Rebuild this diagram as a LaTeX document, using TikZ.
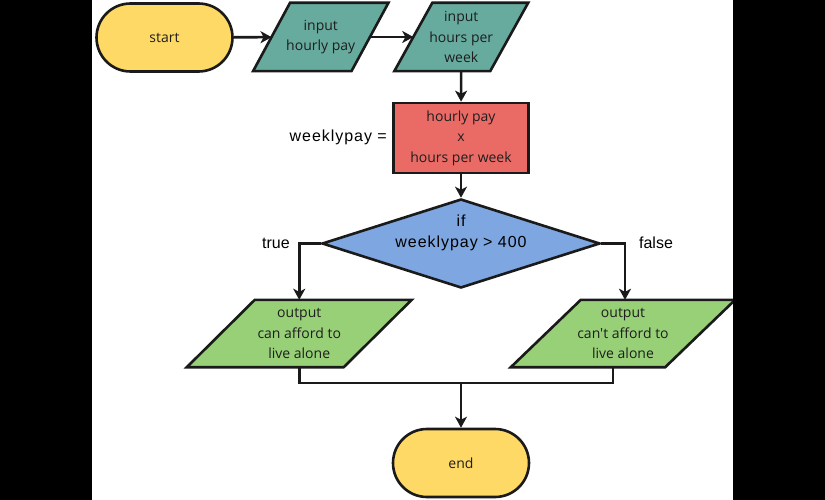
\documentclass[tikz,border=0pt]{standalone}
\usepackage{fontspec}
\setmainfont{Open Sans}[Ligatures=TeXOff]
\newfontfamily\lblfont{Liberation Sans}
\newfontfamily\lblwide{Liberation Sans}[LetterSpace=6]
\usetikzlibrary{shapes.geometric,shapes.misc,arrows.meta,backgrounds,calc}
\definecolor{cyel}{HTML}{FFD966}
\definecolor{cteal}{HTML}{67AB9F}
\definecolor{cred}{HTML}{EA6B66}
\definecolor{cblue}{HTML}{7EA6E0}
\definecolor{cgreen}{HTML}{97D077}
\definecolor{cline}{HTML}{1A1A1A}
\definecolor{ctext}{HTML}{1E1E1E}
\newcommand{\parashape}[3]{%
  \path[shp, fill=#3] ([xshift=-#2]#1.south west) -- ([xshift=#2]#1.north west)
    -- ([xshift=#2]#1.north east) -- ([xshift=-#2]#1.south east) -- cycle;}
\begin{document}
\begin{tikzpicture}[x=1pt,y=-1pt,
  every node/.style={font=\fontsize{14}{20.5}\selectfont, text=ctext},
  shp/.style={draw=cline, line width=2.6pt, line join=miter},
  term/.style={shp, rounded rectangle, fill=cyel, minimum width=136pt, minimum height=68pt, inner sep=0pt},
  iobox/.style={minimum width=#1, minimum height=67pt, inner sep=0pt, align=center},
  procbox/.style={shp, rectangle, fill=cred, minimum width=135pt, minimum height=70pt, inner sep=0pt, align=center},
  decbox/.style={shp, diamond, fill=cblue, minimum width=278pt, minimum height=89pt, inner sep=0pt},
  lbl/.style={font=\lblfont\fontsize{16}{21}\selectfont, text=black, inner sep=0pt, align=center},
  lblw/.style={font=\lblwide\fontsize{16}{21}\selectfont, text=black, inner sep=0pt, align=center},
  conn/.style={draw=cline, line width=2.6pt, -{Stealth[length=11pt,width=12pt,inset=3pt]}},
  plain/.style={draw=cline, line width=2.6pt},
]
\useasboundingbox (0,0) rectangle (825,500);
\fill[black] (0,0) rectangle (92,500);
\fill[black] (733,0) rectangle (825,500);

\node[term] (start) at (164.5,37.5) {start};
\node[iobox=98pt, minimum height=68pt] (p1) at (320.75,37) {input\\hourly pay};
\node[iobox=95.5pt, minimum height=68pt] (p2) at (461.25,37) {input\\hours per\\week};
\node[procbox] (r) at (461,138) {hourly pay\\x\\hours per week};
\node[lblw, anchor=east] (wl) at (387,137) {weeklypay =};
\node[decbox] (d) at (461,243.5) {};
\node[lblw] (dt) at (461,233) {if\\weeklypay > 400};
\node[lbl] (tl) at (276,243) {true};
\node[lbl] (fl) at (656,243) {false};
\node[iobox=156.5pt] (pL) at (299.25,333.5) {output\\can afford to\\live alone};
\node[iobox=154pt] (pR) at (623,333.5) {output\\can't afford to\\live alone};
\coordinate (m) at (461,383);
\node[term] (end) at (461,463) {end};

\begin{pgfonlayer}{background}
\parashape{p1}{18.5pt}{cteal}
\parashape{p2}{19pt}{cteal}
\parashape{pL}{34pt}{cgreen}
\parashape{pR}{35pt}{cgreen}
\end{pgfonlayer}

\draw[conn] (start) -- (p1);
\draw[conn] (p1) -- (p2);
\draw[conn] (p2) -- (r);
\draw[conn] (r) -- (d);
\draw[conn] (d.west) -| (pL.north);
\draw[conn] (d.east) -| ([xshift=2pt]pR.north);
\draw[plain] (pL.south) |- (m);
\draw[plain] ([xshift=-10pt]pR.south) |- (m);
\draw[conn] (m) -- (end);
\end{tikzpicture}
\end{document}
